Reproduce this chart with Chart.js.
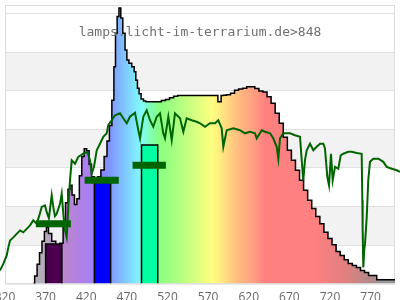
<!DOCTYPE html>
<html>
<head>
<meta charset="utf-8">
<title>lamps.licht-im-terrarium.de>848</title>
<script src="https://cdn.jsdelivr.net/npm/chart.js@4/dist/chart.umd.min.js"></script>
<style>
  html, body { margin: 0; padding: 0; background: #fff; overflow: hidden; }
  #wrap { width: 400px; height: 312px; }
</style>
</head>
<body>
<div id="wrap"><canvas id="chart"></canvas></div>
<script>
// wavelength axis (nm)
const xMin = 320;
const xMax = 800;
const xTicks = [320, 370, 420, 470, 520, 570, 620, 670, 720, 770];
const yMax = 7.23;
const yTicks = [0, 1, 2, 3, 4, 5, 6, 7];

const title = 'lamps.licht-im-terrarium.de>848';

// lamp spectrum
const specNm = [355, 358, 361, 364, 367, 370, 372, 375, 380, 385,
  390, 393, 396, 399, 401, 404, 407, 410, 413, 416,
  419, 422, 425, 428, 432, 436, 440, 444, 447, 450,
  453, 455, 457, 459, 461.5, 463.5, 466.5, 469, 471, 474,
  478, 480, 482, 484, 486, 489, 492, 495, 500,
  505, 510, 515, 520, 525, 530, 535, 540, 545, 550,
  555, 560, 565, 570, 575, 580, 584, 588, 590, 595, 600,
  605, 610, 615, 620, 625, 630, 635, 640, 645, 650,
  655, 660, 665, 670, 675, 680, 685, 690, 695, 700,
  705, 710, 715, 720, 725, 730, 735, 740, 745, 750,
  755, 760, 765, 770, 775, 780, 785, 790, 795, 800];
const specVal = [0, 0.2, 0.5, 0.8, 1.1, 1.35, 1.46, 1.3, 1.1, 1.0,
  1.05, 1.5, 2.1, 2.45, 2.55, 2.3, 2.05, 2.2, 2.8, 3.3,
  3.5, 3.45, 3.1, 2.77, 2.75, 2.77, 2.95, 3.3, 3.7, 4.1,
  4.76, 5.63, 6.5, 6.93, 7.15, 6.89, 6.5, 6.06, 5.8, 5.72,
  5.63, 5.5, 5.28, 5.07, 4.93, 4.79, 4.74, 4.72, 4.72,
  4.72, 4.72, 4.75, 4.78, 4.82, 4.86, 4.88, 4.88, 4.88, 4.88,
  4.88, 4.88, 4.88, 4.88, 4.88, 4.88, 4.72, 4.88, 4.89, 4.9, 4.94,
  5.02, 5.05, 5.07, 5.11, 5.11, 5.06, 5.0, 4.97, 4.85, 4.68,
  4.42, 4.16, 3.8, 3.46, 3.2, 2.94, 2.68, 2.42, 2.16, 1.95,
  1.74, 1.55, 1.33, 1.17, 1.01, 0.83, 0.73, 0.62, 0.52, 0.47,
  0.42, 0.34, 0.29, 0.21, 0.21, 0.10, 0.10, 0.10, 0.10, 0.10];

// daylight reference curve
const refNm = [313.8, 317.9, 322.1, 324.1, 326.2, 330.2, 334.4, 338.5, 342.5, 346.7,
  350.8, 354.8, 359.0, 362.0, 365.2, 369.2, 371.3, 374.0, 377.5, 379.4,
  381.5, 383.6, 387.7, 389.8, 391.8, 393.8, 395.9, 397.9, 400.0, 402.1,
  406.2, 410.2, 416.4, 421.3, 424.6, 426.7, 429.5, 432.9, 436.9, 441.0,
  445.2, 447.1, 451.3, 455.4, 461.5, 465.6, 469.8, 473.8, 480.0, 484.1,
  486.2, 490.2, 494.4, 498.5, 502.5, 506.7, 510.8, 514.8, 516.9, 521.0,
  525.2, 529.2, 535.4, 539.5, 543.6, 549.8, 555.9, 560.0, 566.2, 572.3,
  578.5, 582.5, 586.7, 588.7, 592.9, 601.0, 609.2, 615.4, 621.5, 627.7,
  629.8, 636.0, 640.0, 646.2, 650.2, 654.4, 656.4, 658.5, 662.5, 670.8,
  676.9, 683.1, 685.2, 687.1, 689.2, 691.3, 695.4, 699.5, 703.6, 707.7,
  711.8, 713.8, 716.7, 718.8, 721.2, 723.3, 726.2, 730.2, 733.2, 736.4,
  742.5, 746.7, 752.9, 759.0, 759.8, 760.2, 761.0, 762.1, 763.1, 765.2,
  767.1, 769.2, 773.3, 779.5, 785.6, 789.8, 795.9, 802.1, 806.2];
const refVal = [0.34, 0.51, 0.73, 0.94, 1.12, 1.20, 1.29, 1.38, 1.33, 1.42,
  1.51, 1.64, 1.55, 1.75, 1.99, 2.03, 1.86, 1.70, 2.29, 1.99,
  1.75, 1.81, 2.07, 2.33, 1.81, 1.38, 1.20, 1.99, 2.68, 3.20,
  3.11, 3.29, 3.37, 3.42, 3.20, 2.85, 3.03, 3.46, 3.63, 3.81,
  3.90, 4.11, 4.24, 4.37, 4.42, 4.29, 4.16, 4.33, 4.43, 3.98,
  3.77, 4.33, 4.50, 4.24, 4.07, 4.33, 4.42, 3.90, 3.77, 4.33,
  3.72, 4.42, 4.29, 3.94, 4.29, 4.24, 4.20, 4.16, 4.07, 4.16,
  4.16, 4.24, 4.03, 3.55, 3.98, 4.03, 3.98, 3.90, 3.94, 3.90,
  3.77, 3.98, 3.94, 3.90, 3.77, 3.55, 3.24, 3.77, 3.90, 3.90,
  3.85, 3.81, 3.20, 2.68, 3.20, 3.46, 3.63, 3.46, 3.55, 3.63,
  3.63, 3.51, 2.77, 2.55, 3.37, 2.68, 3.03, 2.98, 3.33, 3.37,
  3.42, 3.42, 3.39, 3.37, 2.16, 1.38, 0.42, 0.86, 1.03, 1.73,
  2.68, 3.16, 3.24, 3.24, 3.16, 3.03, 2.98, 2.94, 2.90];

// UV / blue / cyan bands
const barStart = [370, 430, 488];
const barEnd = [390, 450, 508];
const barVal = [1.03, 2.64, 3.6];
const barColors = ['#4b004f', '#0000ff', '#00ffa0'];

// green marks over the bands
const markStart = [358, 418, 477];
const markEnd = [401, 460, 518];
const markVal = [1.55, 2.68, 3.07];

// fill colour along the wavelength axis
const rainbowNm = [320, 365, 375, 390, 405, 425, 438, 450, 465, 480, 490, 500, 510, 530, 555, 575, 590, 605, 625, 640, 700, 740, 776, 778, 800];
const rainbowCol = ['#b0b0b0', '#b5aeb9', '#b7a4c2', '#ba88ca', '#b482da', '#a880f5', '#8a80ff', '#8098ff', '#80c0ff', '#80e8ff',
  '#80fff0', '#80ffb0', '#88ff80', '#a8ff80', '#d8ff80', '#ffff80', '#ffe080', '#ffc080', '#ffa080', '#ff8080',
  '#ff8080', '#e08080', '#aa8c8c', '#999999', '#999999'];

function rainbow(context) {
  const chart = context.chart;
  const {ctx, chartArea} = chart;
  if (!chartArea) return null;
  const x = chart.scales.x;
  const g = ctx.createLinearGradient(x.getPixelForValue(xMin), 0, x.getPixelForValue(xMax), 0);
  rainbowNm.forEach((nm, i) => g.addColorStop((nm - xMin) / (xMax - xMin), rainbowCol[i]));
  return g;
}

// striped background, frame and the title text
const backdrop = {
  id: 'backdrop',
  beforeDraw(chart) {
    const {ctx, chartArea: a, scales: {y}} = chart;
    ctx.save();
    ctx.fillStyle = '#f2f2f2';
    for (let v = 1; v < 7; v += 2) {
      const top = y.getPixelForValue(v + 1);
      const bot = y.getPixelForValue(v);
      ctx.fillRect(a.left, top, a.right - a.left, bot - top);
    }
    ctx.restore();
  },
  beforeDatasetsDraw(chart) {
    const {ctx, chartArea: a} = chart;
    ctx.save();
    ctx.strokeStyle = '#dddddd';
    ctx.lineWidth = 1;
    ctx.strokeRect(a.left + 0.5, a.top + 0.5, a.right - a.left - 1, a.bottom - a.top);
    ctx.restore();
  },
  afterDraw(chart) {
    const {ctx, chartArea: a} = chart;
    ctx.save();
    ctx.font = '13px "DejaVu Sans Mono"';
    ctx.fillStyle = '#707070';
    ctx.textAlign = 'center';
    ctx.textBaseline = 'alphabetic';
    ctx.fillText(title, (a.left + a.right) / 2, a.top + 31);
    ctx.restore();
  }
};

const datasets = [];
datasets.push({
  label: 'reference',
  data: refNm.map((x, i) => ({x: x, y: refVal[i]})),
  borderColor: '#006400',
  borderWidth: 2,
  pointRadius: 0,
  fill: false,
  clip: false,
  order: 0
});
markStart.forEach((s, i) => datasets.push({
  data: [{x: s, y: markVal[i]}, {x: markEnd[i], y: markVal[i]}],
  borderColor: '#006400',
  borderWidth: 7,
  borderCapStyle: 'butt',
  pointRadius: 0,
  fill: false,
  order: 1
}));
barStart.forEach((s, i) => datasets.push({
  data: [{x: s, y: 0}, {x: s, y: barVal[i]}, {x: barEnd[i], y: barVal[i]}, {x: barEnd[i], y: 0}],
  borderColor: '#000',
  borderWidth: 1.5,
  backgroundColor: barColors[i],
  fill: 'origin',
  pointRadius: 0,
  order: 2
}));
datasets.push({
  label: 'spectrum',
  data: specNm.map((x, i) => ({x: x, y: specVal[i]})),
  borderColor: '#000',
  borderWidth: 1.5,
  backgroundColor: rainbow,
  fill: 'origin',
  stepped: 'middle',
  pointRadius: 0,
  order: 3
});

new Chart(document.getElementById('chart'), {
  type: 'line',
  data: {datasets: datasets},
  options: {
    responsive: true,
    maintainAspectRatio: false,
    animation: false,
    layout: {padding: {left: 5, right: 5, top: 5, bottom: 0}, autoPadding: false},
    plugins: {legend: {display: false}, tooltip: {enabled: false}},
    scales: {
      x: {
        type: 'linear',
        bounds: 'data',
        // range set here (not via min/max) so the curve may run past the frame
        afterDataLimits(axis) { axis.min = xMin; axis.max = xMax; },
        afterBuildTicks(axis) { axis.ticks = xTicks.map(v => ({value: v})); },
        // let the first label hang off the left edge like the original
        afterFit(axis) { axis.paddingLeft = 0; axis.paddingRight = 0; },
        grid: {display: false, drawTicks: false, tickLength: 0},
        border: {display: false},
        ticks: {autoSkip: false, maxRotation: 0, padding: 7, color: '#666', font: {family: 'Open Sans', size: 12}}
      },
      y: {
        min: 0,
        max: yMax,
        afterBuildTicks(axis) { axis.ticks = yTicks.map(v => ({value: v})); },
        ticks: {display: false},
        grid: {color: '#e0e0e0', drawTicks: false, tickLength: 0},
        border: {display: false}
      }
    }
  },
  plugins: [backdrop]
});
</script>
</body>
</html>
